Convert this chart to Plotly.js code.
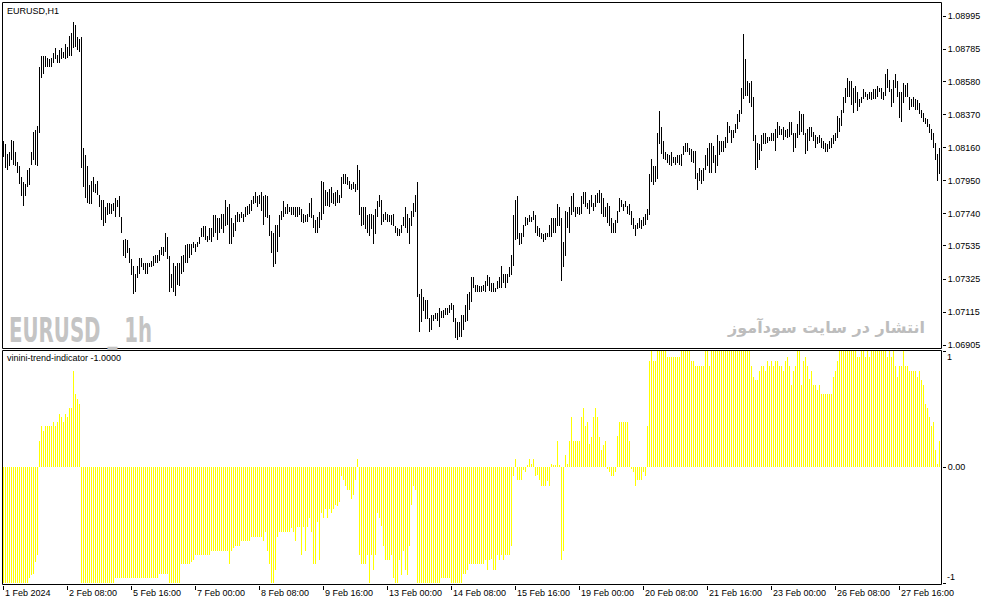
<!DOCTYPE html>
<html>
<head>
<meta charset="utf-8">
<script src="https://cdn.plot.ly/plotly-3.0.1.min.js"></script>
<style>
html,body{margin:0;padding:0;background:#ffffff;}
#chart{width:987px;height:605px;}
</style>
</head>
<body>
<div id="chart"></div>
<script>
// ---- data (EURUSD H1, one value per hourly bar) ----
const high = [
1.0820,1.0818,1.0812,1.0813,1.0821,1.0820,1.0813,1.0807,1.0804,1.0797,
1.0794,1.0793,1.0802,1.0803,1.0813,1.0826,1.0827,1.0830,1.0867,1.0874,
1.0874,1.0874,1.0873,1.0872,1.0873,1.0876,1.0879,1.0875,1.0878,1.0879,
1.0877,1.0882,1.0880,1.0887,1.0889,1.0896,1.0894,1.0886,1.0885,1.0886,
1.0816,1.0811,1.0804,1.0792,1.0795,1.0797,1.0793,1.0795,1.0786,1.0783,
1.0783,1.0778,1.0781,1.0781,1.0780,1.0781,1.0784,1.0783,1.0785,1.0772,
1.0757,1.0758,1.0757,1.0752,1.0745,1.0741,1.0736,1.0741,1.0746,1.0746,
1.0743,1.0743,1.0743,1.0743,1.0744,1.0747,1.0748,1.0748,1.0751,1.0753,
1.0753,1.0762,1.0759,1.0747,1.0736,1.0743,1.0741,1.0743,1.0743,1.0747,
1.0748,1.0754,1.0755,1.0755,1.0755,1.0756,1.0755,1.0756,1.0759,1.0765,
1.0766,1.0766,1.0760,1.0765,1.0765,1.0773,1.0773,1.0771,1.0771,1.0774,
1.0774,1.0783,1.0778,1.0780,1.0771,1.0768,1.0773,1.0775,1.0774,1.0775,
1.0774,1.0778,1.0779,1.0780,1.0783,1.0785,1.0788,1.0785,1.0786,1.0788,
1.0785,1.0786,1.0785,1.0773,1.0763,1.0762,1.0767,1.0767,1.0773,1.0776,
1.0782,1.0778,1.0780,1.0778,1.0778,1.0778,1.0778,1.0778,1.0778,1.0777,
1.0774,1.0773,1.0774,1.0781,1.0784,1.0773,1.0770,1.0772,1.0775,1.0795,
1.0794,1.0789,1.0788,1.0790,1.0791,1.0787,1.0788,1.0789,1.0786,1.0797,
1.0799,1.0799,1.0797,1.0795,1.0793,1.0794,1.0793,1.0805,1.0802,1.0778,
1.0778,1.0778,1.0773,1.0774,1.0774,1.0773,1.0777,1.0782,1.0786,1.0783,
1.0774,1.0775,1.0774,1.0773,1.0773,1.0774,1.0766,1.0765,1.0764,1.0767,
1.0772,1.0778,1.0774,1.0771,1.0776,1.0781,1.0786,1.0794,1.0723,1.0726,
1.0721,1.0719,1.0719,1.0708,1.0710,1.0710,1.0711,1.0711,1.0714,1.0712,
1.0713,1.0714,1.0714,1.0716,1.0717,1.0716,1.0708,1.0705,1.0705,1.0710,
1.0710,1.0716,1.0723,1.0724,1.0734,1.0734,1.0729,1.0729,1.0728,1.0728,
1.0729,1.0731,1.0735,1.0734,1.0730,1.0730,1.0727,1.0731,1.0734,1.0741,
1.0736,1.0736,1.0736,1.0740,1.0748,1.0773,1.0783,1.0785,1.0762,1.0762,
1.0767,1.0772,1.0771,1.0773,1.0772,1.0776,1.0773,1.0766,1.0765,1.0762,
1.0761,1.0762,1.0762,1.0767,1.0771,1.0771,1.0771,1.0780,1.0778,1.0771,
1.0756,1.0776,1.0775,1.0778,1.0785,1.0787,1.0778,1.0778,1.0778,1.0785,
1.0788,1.0788,1.0781,1.0783,1.0786,1.0781,1.0786,1.0787,1.0789,1.0787,
1.0784,1.0778,1.0781,1.0779,1.0771,1.0768,1.0770,1.0776,1.0784,1.0783,
1.0780,1.0782,1.0779,1.0780,1.0776,1.0771,1.0767,1.0768,1.0771,1.0770,
1.0772,1.0774,1.0777,1.0799,1.0809,1.0804,1.0804,1.0825,1.0839,1.0829,
1.0820,1.0813,1.0812,1.0811,1.0813,1.0810,1.0810,1.0811,1.0811,1.0812,
1.0817,1.0819,1.0819,1.0816,1.0815,1.0814,1.0814,1.0800,1.0803,1.0802,
1.0803,1.0811,1.0816,1.0819,1.0819,1.0817,1.0811,1.0824,1.0820,1.0820,
1.0820,1.0823,1.0832,1.0830,1.0827,1.0827,1.0831,1.0837,1.0840,1.0854,
1.0888,1.0872,1.0858,1.0857,1.0858,1.0848,1.0824,1.0819,1.0818,1.0824,
1.0825,1.0825,1.0823,1.0823,1.0825,1.0825,1.0828,1.0832,1.0830,1.0828,
1.0829,1.0827,1.0828,1.0832,1.0832,1.0825,1.0825,1.0831,1.0839,1.0837,
1.0837,1.0825,1.0828,1.0829,1.0829,1.0826,1.0824,1.0823,1.0824,1.0822,
1.0820,1.0819,1.0818,1.0820,1.0822,1.0824,1.0825,1.0836,1.0835,1.0840,
1.0848,1.0854,1.0860,1.0858,1.0858,1.0854,1.0855,1.0851,1.0847,1.0848,
1.0853,1.0851,1.0850,1.0851,1.0851,1.0853,1.0853,1.0855,1.0854,1.0854,
1.0851,1.0863,1.0866,1.0859,1.0853,1.0859,1.0863,1.0858,1.0851,1.0851,
1.0857,1.0856,1.0857,1.0848,1.0847,1.0848,1.0847,1.0846,1.0844,1.0840,
1.0838,1.0835,1.0834,1.0831,1.0828,1.0825,1.0819,1.0812,1.0816
];
const low = [
1.0810,1.0803,1.0802,1.0804,1.0808,1.0805,1.0804,1.0800,1.0793,1.0785,
1.0779,1.0785,1.0791,1.0792,1.0805,1.0808,1.0805,1.0804,1.0825,1.0860,
1.0863,1.0867,1.0867,1.0867,1.0867,1.0870,1.0872,1.0870,1.0870,1.0872,
1.0873,1.0872,1.0873,1.0874,1.0874,1.0879,1.0880,1.0878,1.0877,1.0803,
1.0791,1.0784,1.0781,1.0780,1.0780,1.0788,1.0787,1.0786,1.0778,1.0770,
1.0766,1.0768,1.0773,1.0774,1.0774,1.0776,1.0772,1.0778,1.0772,1.0762,
1.0747,1.0746,1.0749,1.0743,1.0735,1.0723,1.0724,1.0733,1.0736,1.0740,
1.0738,1.0736,1.0736,1.0740,1.0740,1.0741,1.0743,1.0743,1.0744,1.0748,
1.0747,1.0750,1.0745,1.0724,1.0727,1.0724,1.0722,1.0729,1.0728,1.0736,
1.0737,1.0743,1.0743,1.0746,1.0748,1.0752,1.0750,1.0753,1.0755,1.0759,
1.0759,1.0757,1.0756,1.0757,1.0756,1.0759,1.0762,1.0757,1.0762,1.0764,
1.0762,1.0766,1.0767,1.0755,1.0755,1.0759,1.0763,1.0769,1.0769,1.0771,
1.0769,1.0772,1.0773,1.0774,1.0776,1.0780,1.0781,1.0778,1.0780,1.0776,
1.0767,1.0772,1.0771,1.0760,1.0749,1.0740,1.0742,1.0750,1.0759,1.0770,
1.0772,1.0774,1.0774,1.0775,1.0773,1.0773,1.0772,1.0772,1.0773,1.0769,
1.0768,1.0769,1.0769,1.0772,1.0771,1.0765,1.0762,1.0762,1.0765,1.0770,
1.0774,1.0779,1.0779,1.0778,1.0781,1.0780,1.0779,1.0781,1.0781,1.0784,
1.0793,1.0793,1.0792,1.0790,1.0789,1.0790,1.0788,1.0789,1.0773,1.0766,
1.0767,1.0764,1.0762,1.0760,1.0764,1.0755,1.0761,1.0772,1.0778,1.0767,
1.0769,1.0770,1.0769,1.0769,1.0767,1.0766,1.0762,1.0760,1.0760,1.0762,
1.0766,1.0765,1.0762,1.0755,1.0766,1.0772,1.0775,1.0721,1.0699,1.0705,
1.0712,1.0707,1.0707,1.0699,1.0700,1.0706,1.0707,1.0706,1.0702,1.0708,
1.0708,1.0710,1.0710,1.0711,1.0713,1.0705,1.0695,1.0694,1.0696,1.0696,
1.0700,1.0705,1.0706,1.0713,1.0718,1.0727,1.0724,1.0724,1.0724,1.0724,
1.0725,1.0724,1.0728,1.0725,1.0724,1.0724,1.0724,1.0726,1.0727,1.0727,
1.0730,1.0727,1.0730,1.0734,1.0735,1.0741,1.0757,1.0758,1.0754,1.0755,
1.0759,1.0766,1.0767,1.0769,1.0769,1.0770,1.0762,1.0760,1.0759,1.0758,
1.0756,1.0757,1.0759,1.0759,1.0759,1.0762,1.0762,1.0766,1.0766,1.0731,
1.0740,1.0747,1.0765,1.0762,1.0773,1.0775,1.0772,1.0774,1.0773,1.0774,
1.0780,1.0778,1.0777,1.0774,1.0778,1.0776,1.0778,1.0781,1.0781,1.0774,
1.0772,1.0772,1.0768,1.0766,1.0762,1.0762,1.0762,1.0768,1.0775,1.0778,
1.0776,1.0778,1.0774,1.0773,1.0767,1.0764,1.0760,1.0764,1.0765,1.0764,
1.0766,1.0767,1.0770,1.0773,1.0794,1.0792,1.0794,1.0796,1.0818,1.0812,
1.0809,1.0808,1.0806,1.0805,1.0804,1.0806,1.0805,1.0806,1.0805,1.0804,
1.0811,1.0813,1.0813,1.0811,1.0807,1.0806,1.0796,1.0789,1.0795,1.0793,
1.0795,1.0802,1.0804,1.0800,1.0800,1.0806,1.0800,1.0804,1.0811,1.0813,
1.0813,1.0816,1.0819,1.0825,1.0819,1.0822,1.0825,1.0828,1.0832,1.0837,
1.0847,1.0849,1.0849,1.0844,1.0842,1.0820,1.0802,1.0803,1.0808,1.0814,
1.0818,1.0818,1.0819,1.0820,1.0820,1.0820,1.0814,1.0822,1.0824,1.0824,
1.0821,1.0823,1.0822,1.0823,1.0824,1.0813,1.0816,1.0822,1.0824,1.0826,
1.0824,1.0812,1.0814,1.0820,1.0823,1.0820,1.0816,1.0818,1.0819,1.0816,
1.0815,1.0813,1.0813,1.0815,1.0816,1.0818,1.0820,1.0822,1.0826,1.0830,
1.0838,1.0844,1.0848,1.0848,1.0843,1.0838,1.0844,1.0839,1.0842,1.0844,
1.0847,1.0848,1.0846,1.0847,1.0846,1.0847,1.0847,1.0848,1.0851,1.0847,
1.0846,1.0849,1.0854,1.0851,1.0842,1.0844,1.0854,1.0848,1.0835,1.0832,
1.0844,1.0848,1.0848,1.0840,1.0842,1.0842,1.0840,1.0840,1.0837,1.0835,
1.0832,1.0831,1.0829,1.0825,1.0821,1.0816,1.0808,1.0795,1.0799
];
// vinini-trend-indicator histogram value per bar
const trend = [
-1,-1,-1,-1,-1,-1,-1,-1,-1,-1,
-1,-1,-1,-0.96,-0.93,-0.92,-0.82,-0.76,0.22,0.35,
0.31,0.35,0.35,0.35,0.35,0.39,0.35,0.39,0.46,0.43,
0.39,0.46,0.43,0.51,0.51,0.83,0.63,0.59,0.54,-1,
-1,-1,-1,-1,-1,-1,-1,-1,-1,-1,
-1,-1,-1,-1,-1,-1,-0.96,-0.96,-0.96,-0.96,
-0.96,-0.96,-0.96,-0.96,-0.96,-0.96,-0.96,-0.96,-0.96,-0.96,
-0.96,-0.96,-0.96,-0.96,-0.96,-0.96,-0.96,-0.96,-0.92,-0.92,
-0.92,-0.92,-0.92,-1,-1,-1,-1,-1,-1,-0.84,
-0.84,-0.84,-0.84,-0.84,-0.82,-0.80,-0.76,-0.76,-0.76,-0.76,
-0.76,-0.76,-0.76,-0.76,-0.72,-0.72,-0.72,-0.72,-0.72,-0.72,
-0.72,-0.72,-0.72,-0.84,-0.72,-0.70,-0.68,-0.68,-0.68,-0.64,
-0.64,-0.64,-0.64,-0.64,-0.60,-0.60,-0.60,-0.60,-0.60,-0.60,
-0.64,-0.56,-0.72,-0.84,-1,-1,-0.89,-0.60,-0.56,-0.56,
-0.56,-0.56,-0.56,-0.56,-0.53,-0.56,-0.64,-0.52,-0.52,-0.76,
-0.52,-0.72,-0.52,-0.44,-0.56,-0.84,-0.84,-0.47,-0.80,-0.40,
-0.44,-0.36,-0.44,-0.36,-0.40,-0.36,-0.33,-0.34,-0.30,-0.08,
-0.11,-0.16,-0.20,-0.20,-0.28,-0.24,-0.11,0.07,-0.76,-0.84,
-0.84,-0.84,-0.76,-1,-0.76,-0.89,-0.76,-0.40,-0.44,-0.51,
-0.68,-0.80,-0.80,-0.80,-0.76,-0.96,-1,-1,-0.80,-0.93,
-0.72,-0.89,-0.93,-0.68,-0.33,-0.16,-0.20,-1,-1,-1,
-1,-1,-1,-1,-1,-1,-1,-1,-1,-0.96,
-0.96,-0.96,-0.96,-0.96,-1,-1,-1,-1,-1,-1,
-0.92,-0.92,-0.89,-0.84,-0.84,-0.84,-0.84,-0.84,-0.84,-0.84,
-0.84,-0.80,-0.89,-0.80,-0.79,-0.89,-0.89,-0.76,-0.80,-0.76,
-0.80,-0.76,-0.76,-0.76,-0.68,-0.08,0.07,-0.11,-0.11,-0.11,
-0.03,-0.04,0.02,0.07,0.03,0.07,-0.08,-0.07,-0.11,-0.16,
-0.16,-0.16,-0.12,-0.16,0.03,0.01,0.01,0.22,0.02,-0.80,
-0.72,0.10,0.03,0.22,0.43,0.22,0.22,0.22,0.22,0.43,
0.51,0.35,0.39,0.20,0.26,0.43,0.51,0.43,0.26,0.15,
0.19,0.22,-0.01,-0.04,-0.08,-0.08,-0.04,0.27,0.39,0.39,
0.39,0.39,0.39,0.22,-0.01,-0.04,-0.16,-0.11,-0.11,-0.11,
-0.04,-0.08,0.35,0.91,1,0.91,0.91,1,1,1,
1,1,0.95,0.95,0.95,0.95,0.95,0.95,0.95,1,
1,1,1,1,0.91,0.91,0.87,0.87,0.87,0.87,
0.87,1,1,0.87,1,1,1,1,1,1,
1,1,1,1,1,1,1,1,1,1,
1,1,1,1,0.87,0.78,0.75,0.75,0.83,0.87,
0.87,0.83,0.91,0.87,0.91,0.87,0.91,0.91,0.87,0.87,
0.83,0.91,0.95,0.87,0.71,0.83,0.87,1,1,0.71,
0.91,0.95,0.87,0.76,0.83,0.71,0.71,0.66,0.71,0.63,
0.63,0.63,0.63,0.63,0.63,0.78,0.83,0.91,1,1,
1,1,1,1,1,1,1,0.95,0.95,1,
1,0.95,1,0.95,1,1,1,1,1,1,
1,1,0.95,1,0.95,1,0.87,0.78,0.87,0.87,
1,0.87,0.87,0.83,0.83,0.83,0.83,0.78,0.83,0.75,
0.71,0.54,0.51,0.43,0.35,0.39,0.15,0.03,0.22
];
// time-axis labels, one every 32 hourly bars
const timeLabels = ["1 Feb 2024","2 Feb 08:00","5 Feb 16:00","7 Feb 00:00","8 Feb 08:00",
  "9 Feb 16:00","13 Feb 00:00","14 Feb 08:00","15 Feb 16:00","19 Feb 00:00",
  "20 Feb 08:00","21 Feb 16:00","23 Feb 00:00","26 Feb 08:00","27 Feb 16:00"];
const barsPerLabel = 32;
const priceTicks = [1.08995,1.08785,1.08580,1.08370,1.08160,1.07950,1.07740,1.07535,1.07325,1.07115,1.06905];
const trendTicks = [1, 0, -1];
const trendTickText = ["1", "0.00", "-1"];
const symbolTitle = "EURUSD,H1";
const indicatorTitle = "vinini-trend-indicator -1.0000";
const watermarkLeft = "EURUSD _ 1h";
const watermarkRight = "انتشار در سایت سودآموز";

// ---- layout geometry ----
const W = 987, H = 605, ML = 2, MR = 45, MT = 2, MB = 20;
const plotW = W - ML - MR, plotH = H - MT - MB;
const px = p => (p - ML) / plotW;
const py = p => (H - MB - p) / plotH;

const idx = high.map((_, i) => i);
const span = high.map((h, i) => +(h - low[i]).toFixed(5));
const labelPos = timeLabels.map((_, k) => k * barsPerLabel);

const txtFont = {family: "Liberation Sans, Arial, sans-serif", size: 9, color: "#000000"};

const traces = [
  {
    type: "bar", x: idx, y: span, base: low, width: 0.4,
    marker: {color: "#000000", line: {width: 0}},
    xaxis: "x", yaxis: "y", hoverinfo: "skip"
  },
  {
    type: "bar", x: idx, y: trend, width: 0.4,
    marker: {color: "#FFFF00", line: {width: 0}},
    xaxis: "x", yaxis: "y2", hoverinfo: "skip"
  }
];

const annotations = [];
timeLabels.forEach((t, k) => {
  annotations.push({
    text: t, x: labelPos[k], xref: "x", xanchor: "left", xshift: -1,
    y: 0, yref: "paper", yanchor: "top", yshift: -1,
    showarrow: false, font: txtFont
  });
});
annotations.push({text: symbolTitle, x: 0, xref: "paper", xanchor: "left", xshift: 3,
  y: 1, yref: "paper", yanchor: "top", yshift: -2, showarrow: false, font: txtFont});
annotations.push({text: indicatorTitle, x: 0, xref: "paper", xanchor: "left", xshift: 3,
  y: py(350), yref: "paper", yanchor: "top", yshift: -1, showarrow: false, font: txtFont});
annotations.push({text: trendTickText[0], x: 1, xref: "paper", xanchor: "left", xshift: 3,
  y: trendTicks[0], yref: "y2", yanchor: "middle", yshift: -6, showarrow: false, font: txtFont});
annotations.push({text: trendTickText[2], x: 1, xref: "paper", xanchor: "left", xshift: 3,
  y: trendTicks[2], yref: "y2", yanchor: "middle", yshift: 6, showarrow: false, font: txtFont});
annotations.push({text: "<b>" + watermarkLeft + "</b>", x: px(6.5), xref: "paper", xanchor: "left",
  y: py(329.5), yref: "paper", yanchor: "middle", showarrow: false,
  font: {family: "DejaVu Sans Condensed, DejaVu Sans, sans-serif", size: 34, color: "#C4C4C4"}});
annotations.push({text: "<b>" + watermarkRight + "</b>", x: px(927), xref: "paper", xanchor: "right",
  y: py(327), yref: "paper", yanchor: "middle", showarrow: false,
  font: {family: "DejaVu Sans, sans-serif", size: 16, color: "#BDBDBD"}});

const shapes = [
  {type: "rect", xref: "paper", yref: "paper", x0: px(2.5), x1: px(941.5), y0: py(348.5), y1: py(2.5),
   line: {color: "#000000", width: 1}, fillcolor: "rgba(0,0,0,0)", layer: "above"},
  {type: "rect", xref: "paper", yref: "paper", x0: px(2.5), x1: px(941.5), y0: py(584.5), y1: py(350.5),
   line: {color: "#000000", width: 1}, fillcolor: "rgba(0,0,0,0)", layer: "above"}
];

const layout = {
  width: W, height: H,
  margin: {l: ML, r: MR, t: MT, b: MB, pad: 0},
  paper_bgcolor: "#ffffff", plot_bgcolor: "#ffffff",
  showlegend: false, barmode: "overlay", bargap: 0,
  xaxis: {
    anchor: "y2", range: [-0.75, 469.25], tickmode: "array", tickvals: labelPos,
    showticklabels: false, ticks: "outside", ticklen: 4, tickcolor: "#000000",
    showgrid: false, zeroline: false, showline: false, fixedrange: true
  },
  yaxis: {
    domain: [py(349), 1], range: [1.068809, 1.090843], side: "right", anchor: "x",
    tickmode: "array", tickvals: priceTicks, ticktext: priceTicks.map(v => v.toFixed(5)),
    ticks: "outside", ticklen: 3, tickcolor: "#000000", tickfont: txtFont,
    showgrid: false, zeroline: false, showline: false, fixedrange: true
  },
  yaxis2: {
    domain: [0, py(350)], range: [-1.01724, 1.00862], side: "right", anchor: "x",
    tickmode: "array", tickvals: trendTicks, ticktext: ["", trendTickText[1], ""],
    ticks: "outside", ticklen: 3, tickcolor: "#000000", tickfont: txtFont,
    showgrid: false, zeroline: false, showline: false, fixedrange: true
  },
  shapes: shapes,
  annotations: annotations
};

// the MT4 watermark font is very condensed: squeeze the left watermark horizontally to its width
function fitWatermark() {
  const targetWidth = 143;
  document.querySelectorAll("#chart .annotation-text").forEach(el => {
    if (el.textContent === watermarkLeft) {
      const w = el.getBBox().width;
      if (w > 0) {
        el.style.transformBox = "fill-box";
        el.style.transformOrigin = "0% 50%";
        el.style.transform = "scaleX(" + (targetWidth / w).toFixed(4) + ")";
      }
    }
  });
}

Plotly.newPlot("chart", traces, layout, {displayModeBar: false, responsive: false}).then(fitWatermark);
</script>
</body>
</html>
